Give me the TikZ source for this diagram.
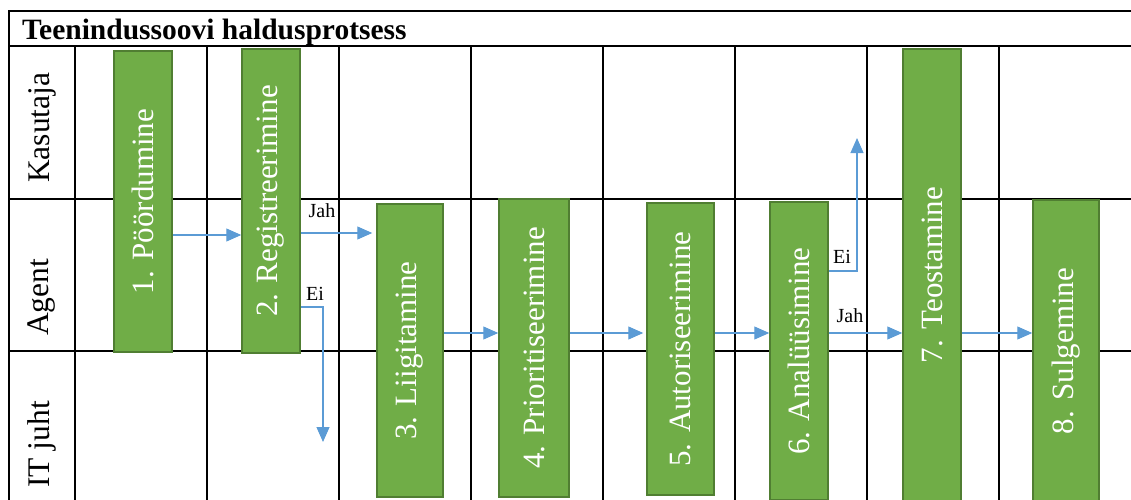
\documentclass[tikz,border=0pt]{standalone}
\usepackage{fontspec}
\setmainfont{Liberation Serif}
\usetikzlibrary{arrows.meta}
\definecolor{procfill}{HTML}{70AD47}
\definecolor{procedge}{HTML}{507E32}
\definecolor{flow}{HTML}{5B9BD5}
\begin{document}
\begin{tikzpicture}[x=1pt,y=-1pt,
  grid/.style={line width=1.6pt},
  proc/.style={draw=procedge, line width=1.5pt, fill=procfill, text=white,
    inner sep=0pt, font=\fontsize{31}{36}\selectfont},
  lane/.style={inner sep=0pt, anchor=south, font=\fontsize{31.5}{36}\selectfont},
  flowline/.style={draw=flow, line width=1.1pt, -{Triangle[length=15pt,width=13pt]}},
  tag/.style={font=\fontsize{20}{24}\selectfont, inner sep=0pt}]
\useasboundingbox (0,0) rectangle (1131,499);

% table frame
\draw[grid] (1131,11) -- (9,11) -- (9,500);
\foreach \y in {46,199,351} \draw[grid] (9,\y) -- (1131,\y);
\foreach \x in {75,207,339,471,603,735,867,999} \draw[grid] (\x,46) -- (\x,500);

% title and lanes
\node[anchor=base west, inner sep=0pt, font=\fontsize{29.5}{34}\selectfont\bfseries] (title) at (22,39) {Teenindussoovi haldusprotsess};
\node[lane] (lane1) at (42,183) {\rotatebox{90}{Kasutaja}};
\node[lane] (lane2) at (42,336) {\rotatebox{90}{Agent}};
\node[lane] (lane3) at (42,488) {\rotatebox{90}{IT juht}};

% process steps
\node[proc, minimum width=58pt, minimum height=301pt] (b1) at (143,201.5) {\rotatebox{90}{1. Pöördumine}};
\node[proc, minimum width=58pt, minimum height=304pt] (b2) at (271,201) {\rotatebox{90}{2. Registreerimine}};
\node[proc, minimum width=66pt, minimum height=293pt] (b3) at (410,350.5) {\rotatebox{90}{3. Liigitamine}};
\node[proc, minimum width=70pt, minimum height=298pt] (b4) at (534,348) {\rotatebox{90}{4. Prioritiseerimine}};
\node[proc, minimum width=67pt, minimum height=292pt] (b5) at (680.5,349) {\rotatebox{90}{5. Autoriseerimine}};
\node[proc, minimum width=58pt, minimum height=298pt] (b6) at (799,351) {\rotatebox{90}{6. Analüüsimine}};
\node[proc, minimum width=58pt, minimum height=452pt] (b7) at (932,275) {\rotatebox{90}{7. Teostamine}};
\node[proc, minimum width=66pt, minimum height=302pt] (b8) at (1066,351) {\rotatebox{90}{8. Sulgemine}};

% loose ends of the branches
\coordinate (ei1) at (323,442);
\coordinate (ei2) at (857,138);

% flow
\draw[flowline] (b1.east |- 0,235) -- (b2.west |- 0,235);
\draw[flowline] (b2.east |- 0,233) -- ([xshift=-4pt]b3.west |- 0,233);
\draw[flowline] (b2.east |- 0,307) -| (ei1);
\draw[flowline] (b3.east |- 0,333) -- (b4.west |- 0,333);
\draw[flowline] (b4.east |- 0,333) -- ([xshift=-3pt]b5.west |- 0,333);
\draw[flowline] (b5.east |- 0,333) -- (b6.west |- 0,333);
\draw[flowline] (b6.east |- 0,271) -| (ei2);
\draw[flowline] (b6.east |- 0,333) -- (b7.west |- 0,333);
\draw[flowline] (b7.east |- 0,333) -- (b8.west |- 0,333);

% branch labels
\node[tag] (jah1) at (322,211) {Jah};
\node[tag] (ei1l) at (315,294) {Ei};
\node[tag] (ei2l) at (842,257) {Ei};
\node[tag] (jah2) at (850,316) {Jah};
\end{tikzpicture}
\end{document}
